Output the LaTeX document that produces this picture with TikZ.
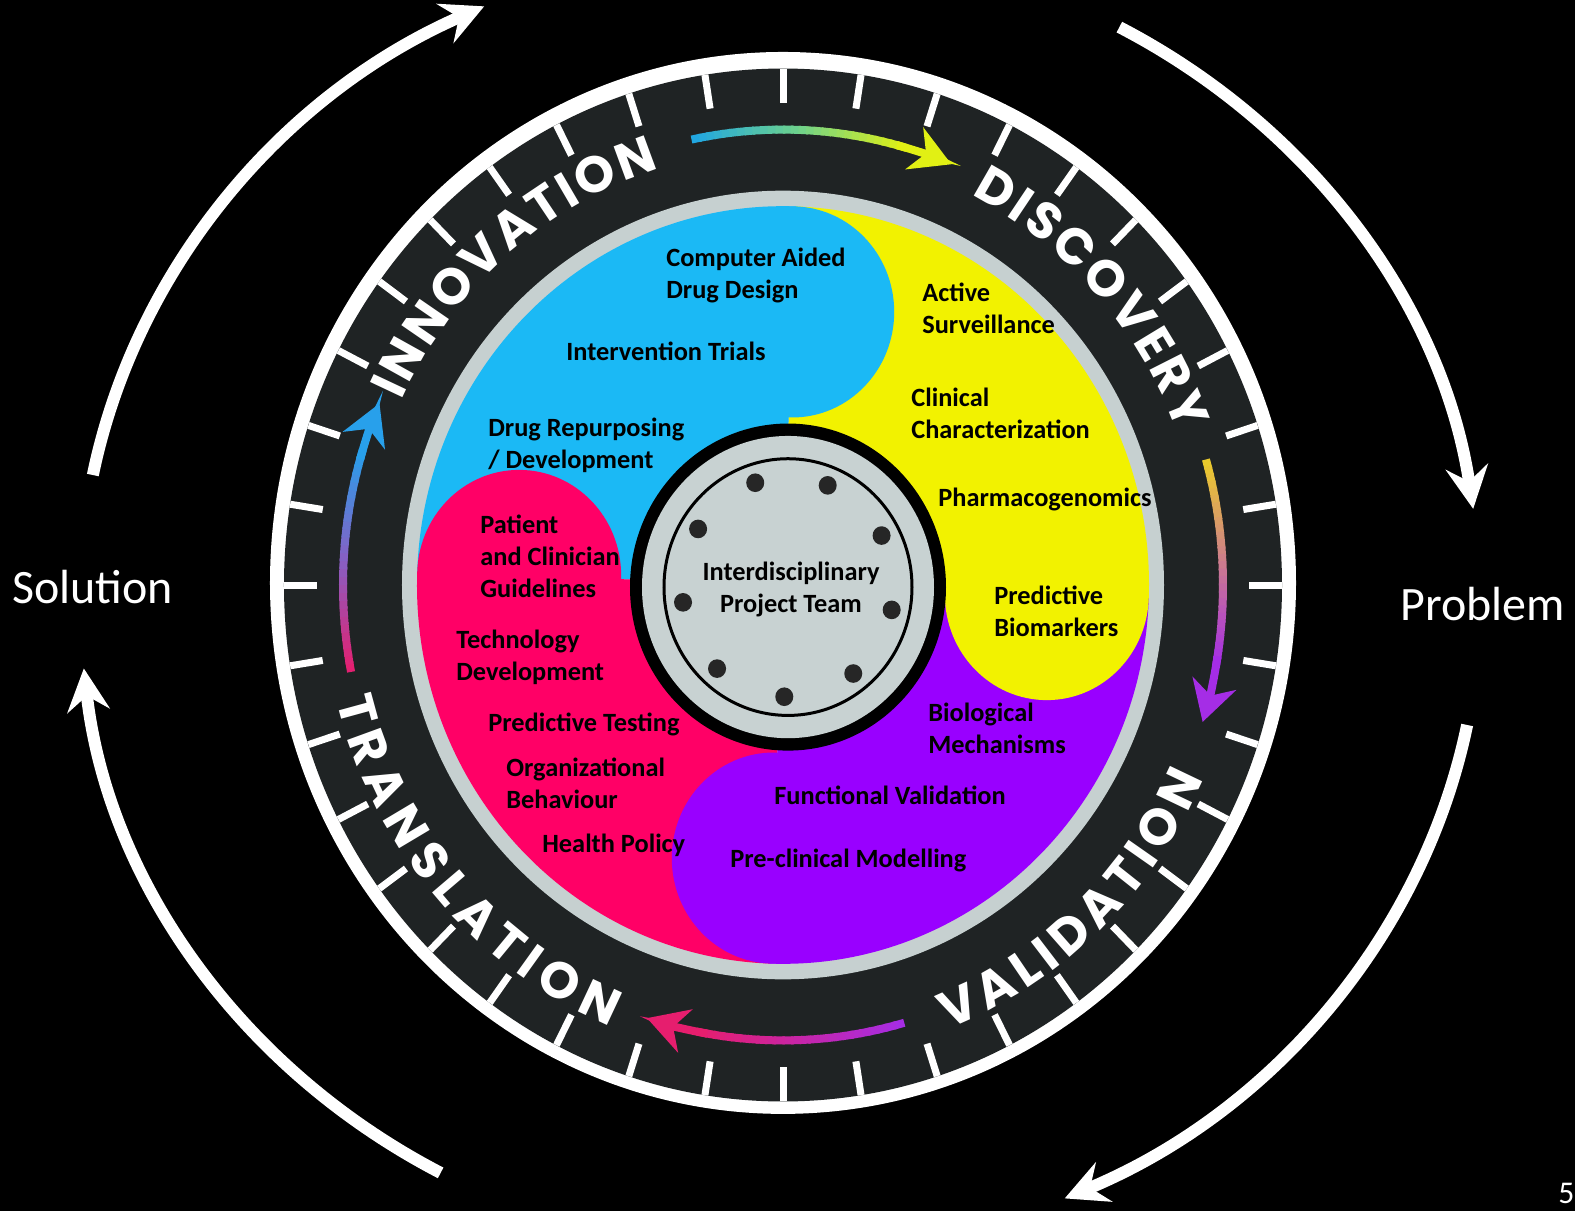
\documentclass[tikz,border=0pt]{standalone}
\usepackage{fontspec}
\setmainfont{Carlito}
\newfontfamily\ringfont{Poppins}
\usetikzlibrary{arrows.meta,decorations.text}

\definecolor{wheelblue}{RGB}{27,185,245}
\definecolor{wheelyellow}{RGB}{242,242,0}
\definecolor{wheelpurple}{RGB}{153,0,255}
\definecolor{wheelpink}{RGB}{255,0,102}
\definecolor{ringdark}{RGB}{31,35,36}
\definecolor{ringgrey}{RGB}{198,208,208}
\definecolor{hubgrey}{RGB}{200,210,210}
\definecolor{arrcyan}{RGB}{30,165,228}
\definecolor{arrgreen}{RGB}{110,210,140}
\definecolor{arrlime}{RGB}{225,240,20}
\definecolor{arryellow}{RGB}{235,205,40}
\definecolor{arrmauve}{RGB}{205,125,140}
\definecolor{arrviolet}{RGB}{165,45,230}
\definecolor{arrpink}{RGB}{230,30,110}
\definecolor{arrlav}{RGB}{135,95,195}
\definecolor{arrblue}{RGB}{40,160,235}

% gradient arc on the dark ring: start angle, end angle, colour from, colour to, steps
\newcommand{\gradarc}[5]{%
  \foreach \i in {1,...,#5}{
    \pgfmathsetmacro{\sa}{#1+(#2-#1)*(\i-1)/#5}
    \pgfmathsetmacro{\ea}{#1+(#2-#1)*(\i+0.3)/#5}
    \pgfmathsetmacro{\pc}{100*(\i-0.5)/#5}
    \draw[ringarrow, color=#4!\pc!#3] (\sa:440) arc[start angle=\sa, end angle=\ea, radius=440];
  }}
% arrow head at the end of such an arc
\newcommand{\arctip}[3]{%
  \draw[ringarrow, #3, -{Stealth[length=0.8cm, width=0.9cm, inset=0.25cm]}]
    (#1:440) arc[start angle=#1, end angle=#2, radius=440];}
% stage name set along the dial
\newcommand{\stagefont}{\ringfont\bfseries\fontsize{29}{31}\selectfont}

\begin{document}
\begin{tikzpicture}[x=0.02cm, y=0.02cm,
    lbl/.style={font=\bfseries\fontsize{15}{18.2}\selectfont, align=left, anchor=west, inner sep=0pt},
    tick/.style={white, line width=0.14cm},
    ringarrow/.style={line width=0.16cm},
    bigarrow/.style={white, line width=0.24cm, -{Stealth[length=0.85cm, width=0.85cm, inset=0.3cm]}},
    ringword/.style={decorate, decoration={text along path, text color=white, text align={fit to path}}}]

  % page
  \fill[black] (-783,-626) rectangle (792,585);
  \useasboundingbox (-783,-626) rectangle (792,585);

  % problem -> solution cycle
  \begin{scope}[shift={(-3,-15)}]
    \draw[bigarrow] (169:700 and 655) arc[start angle=169, end angle=115, x radius=700, y radius=655];
    \draw[bigarrow] (61:700 and 655) arc[start angle=61, end angle=8, x radius=700, y radius=655];
    \draw[bigarrow] (-11:700 and 655) arc[start angle=-11, end angle=-66, x radius=700, y radius=655];
    \draw[bigarrow] (241:700 and 655) arc[start angle=241, end angle=186, x radius=700, y radius=655];
  \end{scope}

  \begin{scope}[yscale=1.035]
    % outer dial
    \fill[white] (0,2) circle (513);
    \fill[ringdark] (0,0) circle (499);
    \foreach \a in {0,9,...,351}
      \draw[tick] (90+\a:499) -- (90+\a:466);

    % stage names
    \path[ringword, decoration={text={|\stagefont|INNOVATION}}]
      (155:421) arc[start angle=155, end angle=107, radius=421];
    \path[ringword, decoration={text={|\stagefont|DISCOVERY}}]
      (63.5:421) arc[start angle=63.5, end angle=20.5, radius=421];
    \path[ringword, decoration={text={|\stagefont|VALIDATION}}]
      (-69:460) arc[start angle=-69, end angle=-24, radius=460];
    \path[ringword, decoration={text={|\stagefont|TRANSLATION}}]
      (194:460) arc[start angle=194, end angle=248, radius=460];

    % arrows between the stages
    \gradarc{102}{88}{arrcyan}{arrgreen}{14}
    \gradarc{88}{74}{arrgreen}{arrlime}{14}
    \arctip{75}{67.5}{arrlime}
    \gradarc{16}{3}{arryellow}{arrmauve}{14}
    \gradarc{3}{-10}{arrmauve}{arrviolet}{14}
    \arctip{-9}{-17.5}{arrviolet}
    \gradarc{-74}{-101}{arrviolet}{arrpink}{24}
    \arctip{-100}{-108}{arrpink}
    \gradarc{191}{177}{arrpink}{arrlav}{14}
    \gradarc{177}{163}{arrlav}{arrblue}{14}
    \arctip{164}{156.5}{arrblue}

    % coloured wheel
    \fill[ringgrey] (0,0) circle (381);
    \foreach \ang/\col in {-2/wheelyellow, 88/wheelblue, 178/wheelpink, 268/wheelpurple}
      \fill[\col] (0,0) -- (\ang:366) arc[start angle=\ang, end angle=\ang+90, radius=366] -- cycle;
    \foreach \ang/\col in {-2/wheelyellow, 88/wheelblue, 178/wheelpink, 268/wheelpurple}
      \fill[\col] (\ang:264) circle (102);

    % hub
    \begin{scope}[shift={(5,-2)}]
      \fill[black] (0,0) circle (158);
      \fill[hubgrey] (0,0) circle (146);
      \draw[black, line width=0.06cm] (0,0) circle (124);
      \foreach \a in {28,68,...,348}
        \fill[black!85] (\a:106) circle (9);
    \end{scope}
  \end{scope}

  % topics
  \node[lbl] (cadd) at (-117,310) {Computer Aided\\Drug Design};
  \node[lbl] (trials) at (-217,234) {Intervention Trials};
  \node[lbl] (repurp) at (-295,140) {Drug Repurposing\\/ Development};
  \node[lbl] (surv) at (139,277) {Active\\Surveillance};
  \node[lbl] (charac) at (128,172) {Clinical\\Characterization};
  \node[lbl] (pgx) at (155,86) {Pharmacogenomics};
  \node[lbl] (biomark) at (211,-26) {Predictive\\Biomarkers};
  \node[lbl] (biomech) at (145,-143) {Biological\\Mechanisms};
  \node[lbl] (funcval) at (-9,-210) {Functional Validation};
  \node[lbl] (preclin) at (-53,-275) {Pre-clinical Modelling};
  \node[lbl] (guide) at (-303,29) {Patient\\and Clinician\\Guidelines};
  \node[lbl] (techdev) at (-327,-72) {Technology\\Development};
  \node[lbl] (predtest) at (-295,-139) {Predictive Testing};
  \node[lbl] (orgbeh) at (-277,-198) {Organizational\\Behaviour};
  \node[lbl] (hpolicy) at (-241,-260) {Health Policy};
  \node[lbl, anchor=center, align=center] (team) at (8,-4) {Interdisciplinary\\Project Team};

  % cycle ends and slide number
  \node[white, anchor=base west, inner sep=0pt, font=\fontsize{27.3}{30}\selectfont] (solution) at (-771,-18) {Solution};
  \node[white, anchor=base west, inner sep=0pt, font=\fontsize{27.3}{30}\selectfont] (problem) at (617,-35) {Problem};
  \node[white, anchor=base west, inner sep=0pt, font=\fontsize{18}{20}\selectfont] (pagenum) at (775,-618) {5};
\end{tikzpicture}
\end{document}
